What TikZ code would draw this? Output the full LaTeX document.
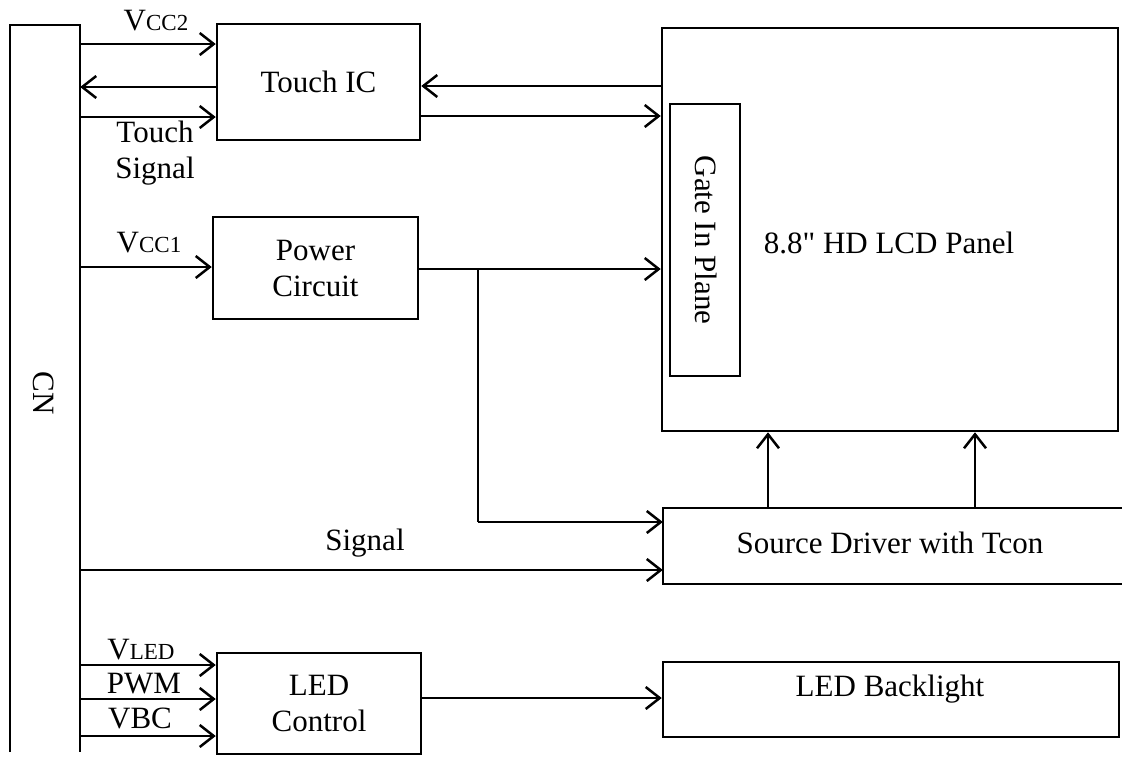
\documentclass[tikz,border=0pt]{standalone}
\usepackage{fontspec}
\setmainfont{Liberation Serif}
\newfontfamily\qfont{Liberation Serif}[Ligatures=TeXOff]
\usetikzlibrary{arrows.meta}
\begin{document}
\begin{tikzpicture}[x=1pt,y=-1pt,
  blk/.style={draw,line width=2.5pt,inner sep=0pt,align=center},
  arr/.style={line width=2.5pt,-{Straight Barb[length=14pt,width=22pt,line width=2.5pt]}},
  ln/.style={line width=2.5pt},
  txt/.style={align=center,inner sep=0pt}]
\useasboundingbox (0,0) rectangle (1122,761);
\tikzset{every node/.append style={font=\fontsize{31}{36}\selectfont}}
\newcommand{\sm}[1]{{\fontsize{23}{24}\selectfont #1}}
% CN
\node[inner sep=0pt,minimum width=70pt,minimum height=727pt] (cn) at (45,388.5) {};
\draw[ln] (cn.south west) -- (cn.north west) -- (cn.north east) -- (cn.south east);
\node[txt,rotate=-90] (cnt) at (44,393) {CN};
% boxes
\node[blk,minimum width=203pt,minimum height=116pt] (touch) at (318.5,82) {Touch IC};
\node[blk,minimum width=205pt,minimum height=102pt] (power) at (315.5,268) {Power\\Circuit};
\node[blk,minimum width=204pt,minimum height=101pt] (ledc) at (319,703.5) {LED\\Control};
\node[blk,minimum width=456pt,minimum height=403pt] (lcd) at (890,229.5) {};
\node[txt] (lcdt) at (889,243) {8.8{\qfont"} HD LCD Panel};
\node[blk,minimum width=70pt,minimum height=272pt] (gip) at (705,240) {};
\node[txt,rotate=-90] (gipt) at (706,240) {Gate In Plane};
\node[inner sep=0pt,minimum width=470pt,minimum height=76pt] (src) at (898,546) {};
\draw[ln] ([xshift=20pt]src.north east) -- (src.north west) -- (src.south west) -- ([xshift=20pt]src.south east);
\node[txt] (srct) at (890,543) {Source Driver with Tcon};
\node[blk,minimum width=456pt,minimum height=75pt] (bl) at (891,699.5) {};
\node[txt] (blt) at (890,689) {LED Backlight};
% CN <-> Touch IC
\draw[arr] (cn.east |- {0,44}) -- (touch.west |- {0,44});
\draw[arr] (touch.west |- {0,87}) -- (cn.east |- {0,87});
\draw[arr] (cn.east |- {0,117}) -- (touch.west |- {0,117});
% Touch IC <-> LCD
\draw[arr] (lcd.west |- {0,86}) -- (touch.east |- {0,86});
\draw[arr] (touch.east |- {0,116}) -- (lcd.west |- {0,116});
% power
\draw[arr] (cn.east |- {0,267}) -- (power.west |- {0,267});
\coordinate (br) at (478,269);
\coordinate (brd) at (478,522);
\draw[arr] (power.east |- br) -- (lcd.west |- br);
\draw[ln] (br) -- (brd);
\draw[arr] (brd) -- (src.west |- brd);
% signal
\draw[arr] (cn.east |- {0,570}) -- (src.west |- {0,570});
% source -> lcd
\draw[arr] (src.north -| {768,0}) -- (lcd.south -| {768,0});
\draw[arr] (src.north -| {975,0}) -- (lcd.south -| {975,0});
% LED
\draw[arr] (cn.east |- {0,665}) -- (ledc.west |- {0,665});
\draw[arr] (cn.east |- {0,699}) -- (ledc.west |- {0,699});
\draw[arr] (cn.east |- {0,736}) -- (ledc.west |- {0,736});
\draw[arr] (ledc.east |- {0,698}) -- (bl.west |- {0,698});
% labels
\node[txt] (lvcc2) at (156,21) {V\sm{CC2}};
\node[txt] (lts) at (155,153) {Touch\\Signal};
\node[txt] (lvcc1) at (149,243) {V\sm{CC1}};
\node[txt] (lsig) at (365,543) {Signal};
\node[txt] (lvled) at (141,650) {V\sm{LED}};
\node[txt] (lpwm) at (144,684) {PWM};
\node[txt] (lvbc) at (140,718) {VBC};
\end{tikzpicture}
\end{document}
